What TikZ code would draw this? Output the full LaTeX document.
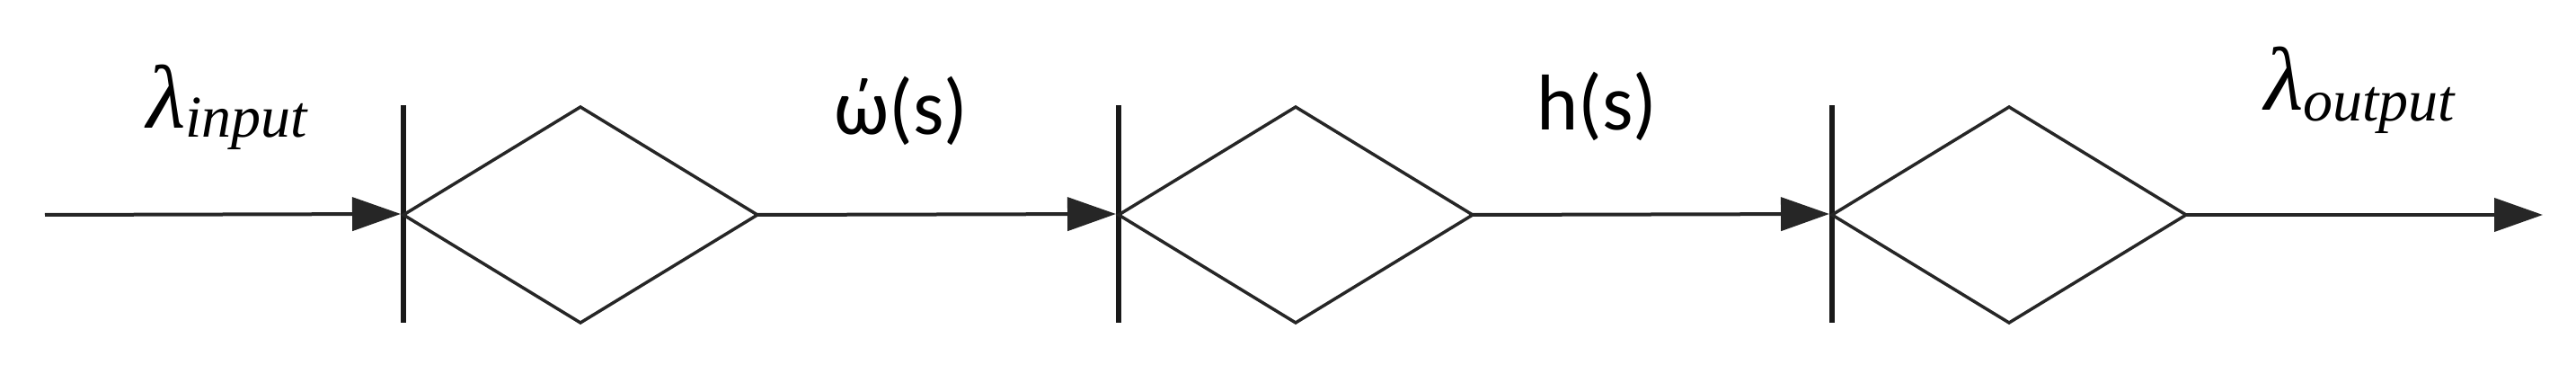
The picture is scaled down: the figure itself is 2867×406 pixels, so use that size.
\documentclass[tikz,border=0pt]{standalone}
\usepackage{fontspec}
\usetikzlibrary{arrows.meta,shapes.geometric}
\newfontfamily\lblsans{Carlito}
\newfontfamily\lblserif{Liberation Serif}
\newcommand{\subfnt}{\lblserif\itshape\fontsize{66}{72}\selectfont}
\begin{document}
\begin{tikzpicture}[x=1pt,y=-1pt,
  wire/.style={line width=4pt, draw=black!85},
  arr/.style={wire, -{Triangle[length=54pt,width=37pt]}},
  bar/.style={rectangle, fill=black!90, minimum width=6pt, minimum height=241pt, inner sep=0pt, outer sep=0pt},
  blk/.style={diamond, draw=black!85, line width=3.5pt, minimum width=394pt, minimum height=240pt, inner sep=0pt, outer sep=0pt, anchor=west},
  sanslbl/.style={font=\lblsans\fontsize{88}{100}\selectfont, inner sep=0pt, anchor=base west},
  lamlbl/.style={font=\lblserif\itshape\fontsize{100}{110}\selectfont, inner sep=0pt, anchor=base west}]
\useasboundingbox (0,0) rectangle (2867,406);
\coordinate (in) at (50,239);
\coordinate (out) at (2830,239);
\node[bar] (b1) at (449,238) {};
\node[bar] (b2) at (1245,238) {};
\node[bar] (b3) at (2039,238) {};
\node[blk] (d1) at (449,239) {};
\node[blk] (d2) at (1245,239) {};
\node[blk] (d3) at (2039,239) {};
\draw[arr] (in) -- (b1.west);
\draw[arr] (d1.east) -- (b2.west);
\draw[arr] (d2.east) -- (b3.west);
\draw[arr] (d3.east) -- (out);
\node[lamlbl] (lin) at (163,143) {λ\raisebox{-10pt}{\subfnt input}};
\node[sanslbl] (lw) at (928,150) {ώ(s)};
\node[sanslbl] (lh) at (1710,145) {h(s)};
\node[lamlbl] (lout) at (2520,123) {λ\raisebox{-12pt}{\subfnt output}};
\end{tikzpicture}
\end{document}
